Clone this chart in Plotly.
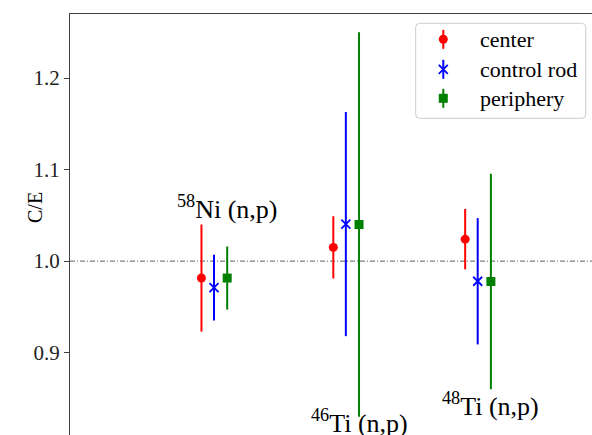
import plotly.graph_objects as go

# Reactions (groups along x) and the three measurement positions
reactions = ["<sup>58</sup>Ni (n,p)", "<sup>46</sup>Ti (n,p)", "<sup>48</sup>Ti (n,p)"]
series_names = ["center", "control rod", "periphery"]

# C/E ratios and their uncertainties per reaction
center_ce = [0.9815, 1.015, 1.024]
center_err = [0.0585, 0.034, 0.033]
rod_ce = [0.971, 1.0405, 0.978]
rod_err = [0.036, 0.1225, 0.069]
periphery_ce = [0.9815, 1.040, 0.9777]
periphery_err = [0.0345, 0.210, 0.1177]

# vertical placement of the reaction labels (in C/E units)
label_y = [1.059, 0.825, 0.843]

y_ticks = [0.9, 1.0, 1.1, 1.2]

W, H = 592, 435
L, T = 70, 14

series_vals = [center_ce, rod_ce, periphery_ce]
series_errs = [center_err, rod_err, periphery_err]
colors = ["#ff0000", "#0000ff", "#008000"]
offsets = [-0.095, 0.0, 0.1]
symbols = ["circle", "x-thin", "square"]
sizes = [9, 9, 9]

base_x = [i + 1 for i in range(len(reactions))]

FONT = "Liberation Serif"


def px_to_paper(px, py):
    """Pixel position on the page -> paper fraction of the plot area."""
    return (px - L) / (W - L), (H - py) / (H - T)


fig = go.Figure()

for name, vals, errs, col, off, sym, sz in zip(series_names, series_vals, series_errs,
                                               colors, offsets, symbols, sizes):
    marker = dict(color=col, symbol=sym, size=sz)
    if sym == "x-thin":
        marker["line"] = dict(color=col, width=1.8)
    fig.add_trace(go.Scatter(
        x=[b + off for b in base_x], y=vals, mode="markers", name=name,
        marker=marker,
        error_y=dict(type="data", array=errs, visible=True, color=col,
                     thickness=2, width=0),
        showlegend=False, cliponaxis=True,
    ))

# legend keys, drawn on an overlay axis measured in pixels
key_x = 443.3
key_rows = [39.3, 69.3, 98.3]
for name, col, sym, sz, ky in zip(series_names, colors, symbols, sizes, key_rows):
    marker = dict(color=col, symbol=sym, size=sz)
    if sym == "x-thin":
        marker["line"] = dict(color=col, width=1.8)
    fig.add_trace(go.Scatter(
        x=[key_x], y=[ky], mode="markers", xaxis="x2", yaxis="y2",
        marker=marker, showlegend=False, hoverinfo="skip",
        error_y=dict(type="constant", value=9.5, visible=True, color=col,
                     thickness=2, width=0),
    ))
    tx, ty = px_to_paper(478, ky)
    fig.add_annotation(x=tx, y=ty, xref="paper", yref="paper", text=name,
                       showarrow=False, xanchor="left", yanchor="middle",
                       font=dict(family=FONT, size=22, color="black"))

# legend frame
x0, x1, y0, y1, r = 415.7, 585.7, 23.3, 118.3, 4
frame = (f"M {x0+r},{y0} L {x1-r},{y0} Q {x1},{y0} {x1},{y0+r} "
         f"L {x1},{y1-r} Q {x1},{y1} {x1-r},{y1} L {x0+r},{y1} "
         f"Q {x0},{y1} {x0},{y1-r} L {x0},{y0+r} Q {x0},{y0} {x0+r},{y0} Z")
fig.add_shape(type="path", path=frame, xref="x2", yref="y2", layer="below",
              line=dict(color="#cccccc", width=1), fillcolor="white")

# reference line at C/E = 1
fig.add_shape(type="line", xref="paper", x0=0, x1=1, yref="y", y0=1.0, y1=1.0,
              layer="below", line=dict(color="#333333", width=0.8, dash="5px,2px,1px,2px"))

# reaction labels, centred over the periphery point
for rx, text, ly in zip(base_x, reactions, label_y):
    fig.add_annotation(x=rx + offsets[2], y=ly, xref="x", yref="y", text=text,
                       showarrow=False, xanchor="center", yanchor="middle",
                       font=dict(family=FONT, size=26, color="black"))

# y-axis title
ax, ay = px_to_paper(35, 208)
fig.add_annotation(x=ax, y=ay, xref="paper", yref="paper",
                   text="C/E", textangle=-90, showarrow=False,
                   xanchor="center", yanchor="middle",
                   font=dict(family=FONT, size=20, color="black"))

x_lo = 1 - (214 - L) / 131.85
x_hi = 3 + (W - 477.7) / 131.85

fig.update_layout(
    width=W, height=H,
    margin=dict(l=L, r=0, t=T, b=0, pad=0),
    paper_bgcolor="white", plot_bgcolor="white",
    showlegend=False,
    font=dict(family=FONT),
    xaxis=dict(range=[x_lo, x_hi], side="top", showline=True, linecolor="#404040",
               linewidth=1.2, ticks="", showticklabels=False, showgrid=False,
               zeroline=False),
    yaxis=dict(range=[0.81, 1.27], showline=True, linecolor="#404040", linewidth=1.2,
               ticks="outside", ticklen=5, tickwidth=1, tickcolor="#404040",
               tickvals=y_ticks, ticktext=[f"{v:.1f}" for v in y_ticks],
               tickfont=dict(family=FONT, size=21, color="#222222"),
               showgrid=False, zeroline=False),
    xaxis2=dict(overlaying="x", range=[L, W], visible=False),
    yaxis2=dict(overlaying="y", range=[H, T], visible=False),
)

fig.write_html("out.html")
